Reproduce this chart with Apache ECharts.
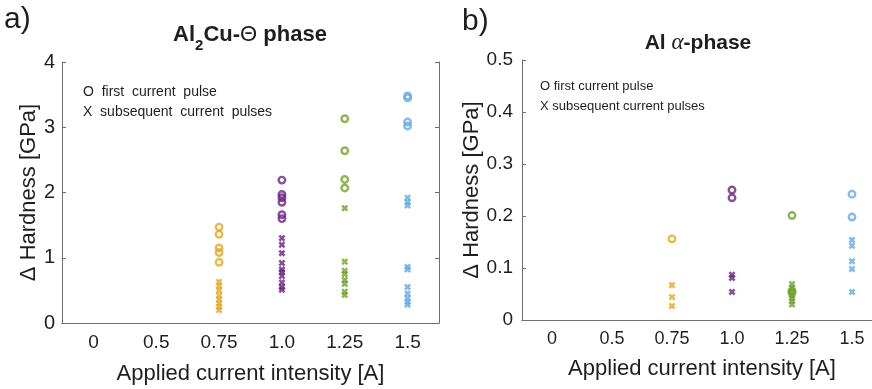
<!DOCTYPE html>
<html>
<head>
<meta charset="utf-8">
<script src="https://cdn.jsdelivr.net/npm/echarts@6/dist/echarts.min.js"></script>
<style>
  html, body { margin: 0; padding: 0; background: #fff; }
  #chart { width: 872px; height: 389px; }
</style>
</head>
<body>
<div id="chart"></div>
<script>
// ===== datos =====
const categorias = ['0', '0.5', '0.75', '1.0', '1.25', '1.5'];
const corrientes = ['0.75', '1.0', '1.25', '1.5'];
const colores = ['#E2A823', '#6B2383', '#72A22C', '#63AAE6'];

// panel a) Al2Cu-Θ phase  (una lista por corriente)
const thetaPrimer = [
    [1.47, 1.36, 1.15, 1.08, 0.93],
    [2.19, 1.97, 1.92, 1.85, 1.66, 1.60],
    [3.13, 2.64, 2.20, 2.07],
    [3.48, 3.45, 3.08, 3.02]
];
const thetaSiguientes = [
    [0.63, 0.57, 0.50, 0.42, 0.36, 0.30, 0.25, 0.20],
    [1.30, 1.20, 1.07, 0.92, 0.82, 0.78, 0.72, 0.62, 0.55, 0.51],
    [1.76, 0.94, 0.80, 0.75, 0.66, 0.60, 0.48, 0.43],
    [1.92, 1.85, 1.80, 0.86, 0.82, 0.55, 0.45, 0.38, 0.32, 0.28]
];

// panel b) Al α-phase
const alfaPrimer = [
    [0.156],
    [0.250, 0.235],
    [0.201, 0.056, 0.052],
    [0.242, 0.198]
];
const alfaSiguientes = [
    [0.067, 0.044, 0.027],
    [0.087, 0.081, 0.054],
    [0.069, 0.062, 0.055, 0.048, 0.042, 0.036, 0.030],
    [0.154, 0.143, 0.113, 0.098, 0.054]
];

const ticksA = [0, 4, 1];
const ticksB = [0, 0.5, 0.1];

// ===== estilo =====
const fuente = 'Liberation Sans, Arial, sans-serif';
const gris = '#6e6e6e';
const texto = '#1e1e1e';
const cruz = 'path://M0,2.6L2.6,0L5,2.4L7.4,0L10,2.6L7.6,5L10,7.4L7.4,10L5,7.6L2.6,10L0,7.4L2.4,5Z';

function ejesX(grid, tam, gap) {
    const base = {
        type: 'category', data: categorias, gridIndex: grid,
        axisLine: { lineStyle: { color: gris, width: 1 } },
        axisTick: { inside: true, alignWithLabel: true, length: 4, lineStyle: { color: gris } },
        splitLine: { show: false }
    };
    return [
        Object.assign({}, base, {
            position: 'bottom',
            axisLabel: { color: texto, fontSize: tam, fontFamily: fuente, margin: 10 },
            name: 'Applied current intensity [A]', nameLocation: 'middle', nameGap: gap,
            nameTextStyle: { color: texto, fontSize: 22, fontFamily: fuente }
        }),
        Object.assign({}, base, { position: 'top', axisLabel: { show: false } })
    ];
}

function ejesY(grid, t, tam, gap, margen) {
    const base = {
        type: 'value', gridIndex: grid, min: t[0], max: t[1], interval: t[2],
        axisLine: { show: true, lineStyle: { color: gris, width: 1 } },
        axisTick: { show: true, inside: true, length: 4, lineStyle: { color: gris } },
        splitLine: { show: false }
    };
    return [
        Object.assign({}, base, {
            position: 'left',
            axisLabel: { color: texto, fontSize: tam, fontFamily: fuente, margin: margen },
            name: 'Δ Hardness [GPa]', nameLocation: 'middle', nameGap: gap, nameRotate: 90,
            nameTextStyle: { color: texto, fontSize: 22, fontFamily: fuente }
        }),
        Object.assign({}, base, { position: 'right', axisLabel: { show: false } })
    ];
}

function seriesPanel(primer, siguientes, eje) {
    const out = [];
    corrientes.forEach((c, i) => {
        out.push({
            type: 'scatter', xAxisIndex: eje, yAxisIndex: eje,
            data: primer[i].map(v => [c, v]),
            symbol: 'circle', symbolSize: 6.5,
            itemStyle: { color: 'rgba(0,0,0,0)', borderColor: colores[i], borderWidth: 2.4 },
            silent: true
        });
        out.push({
            type: 'scatter', xAxisIndex: eje, yAxisIndex: eje,
            data: siguientes[i].map(v => [c, v]),
            symbol: cruz, symbolSize: 7,
            itemStyle: { color: colores[i] },
            silent: true
        });
    });
    return out;
}

const chart = echarts.init(document.getElementById('chart'));

const ejesXa = ejesX(0, 19, 40);
const ejesXb = ejesX(1, 18, 38);

const option = {
    animation: false,
    grid: [
        { left: 62, top: 62, width: 377, height: 261, outerBoundsMode: 'none' },
        { left: 522, top: 60, width: 360, height: 260, outerBoundsMode: 'none' }
    ],
    xAxis: ejesXa.concat(ejesXb),
    yAxis: ejesY(0, ticksA, 20, 16, 7).concat(ejesY(1, ticksB, 19, 31, 9)),
    series: seriesPanel(thetaPrimer, thetaSiguientes, 0)
        .concat(seriesPanel(alfaPrimer, alfaSiguientes, 1).map(s => Object.assign(s, { xAxisIndex: 2, yAxisIndex: 2 }))),
    graphic: [
        { type: 'text', x: 4, y: 20, style: { text: 'a)', font: '30px ' + fuente, fill: texto, verticalAlign: 'middle' } },
        { type: 'text', x: 462, y: 22, style: { text: 'b)', font: '30px ' + fuente, fill: texto, verticalAlign: 'middle' } },
        {
            type: 'text', x: 250, y: 35,
            style: {
                text: '{b|Al}{s|2}{b|Cu-}{t|Θ}{b| phase}',
                align: 'center', verticalAlign: 'middle',
                rich: {
                    b: { fontSize: 22, fontWeight: 'bold', fontFamily: fuente, fill: texto, verticalAlign: 'middle' },
                    s: { fontSize: 15, fontWeight: 'bold', fontFamily: fuente, fill: texto, padding: [22, 0, 0, 0], verticalAlign: 'middle' },
                    t: { fontSize: 22, fontFamily: fuente, fill: texto, verticalAlign: 'middle' }
                }
            }
        },
        {
            type: 'text', x: 698, y: 43,
            style: {
                text: '{b|Al }{t|α}{b|-phase}',
                align: 'center', verticalAlign: 'middle',
                rich: {
                    b: { fontSize: 21, fontWeight: 'bold', fontFamily: fuente, fill: texto },
                    t: { fontSize: 23, fontStyle: 'italic', fontFamily: 'Liberation Serif, serif', fill: texto }
                }
            }
        },
        { type: 'text', x: 83, y: 92, style: { text: 'O  first  current  pulse', font: '14px ' + fuente, fill: texto, verticalAlign: 'middle' } },
        { type: 'text', x: 83, y: 112, style: { text: 'X  subsequent  current  pulses', font: '14px ' + fuente, fill: texto, verticalAlign: 'middle' } },
        { type: 'text', x: 540, y: 86, style: { text: 'O first current pulse', font: '13px ' + fuente, fill: texto, verticalAlign: 'middle' } },
        { type: 'text', x: 540, y: 106, style: { text: 'X subsequent current pulses', font: '13px ' + fuente, fill: texto, verticalAlign: 'middle' } }
    ]
};

chart.setOption(option);
</script>
</body>
</html>
